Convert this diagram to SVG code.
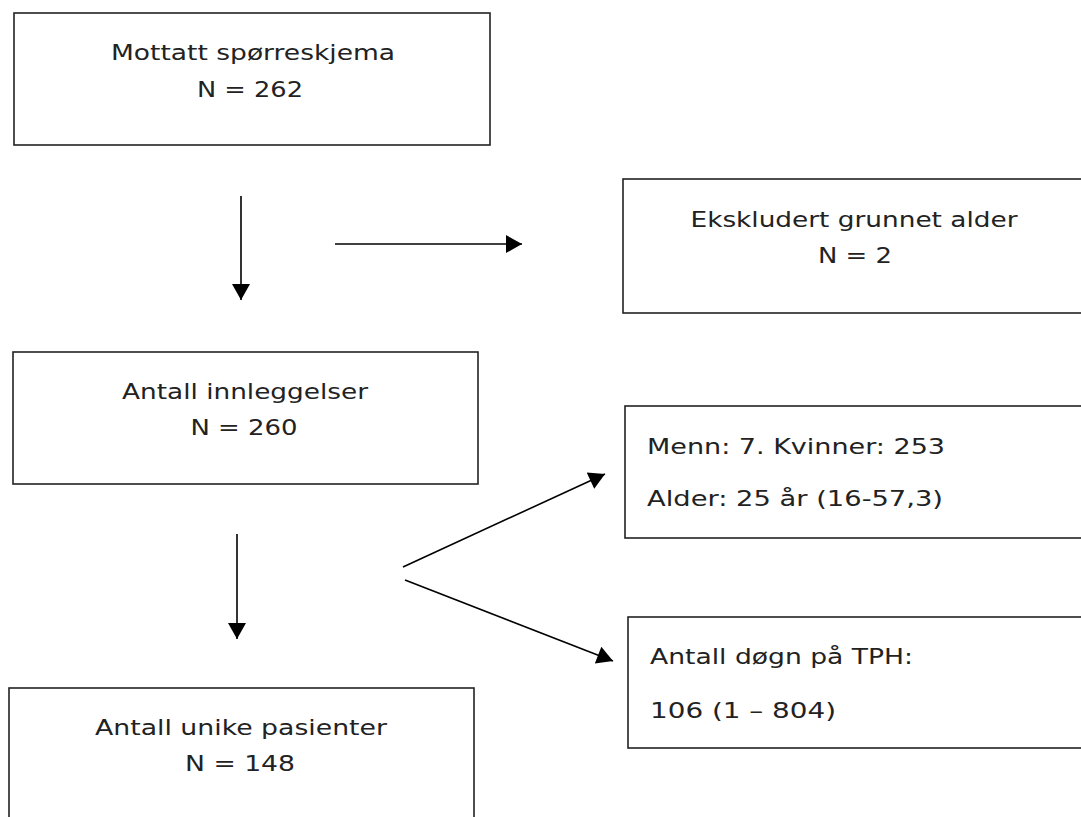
<svg xmlns="http://www.w3.org/2000/svg" width="1081" height="817" viewBox="0 0 1081 817">
<defs>
<style>
.box{fill:#fff;stroke:#222;stroke-width:1.6}
.t{font-family:"DejaVu Sans","Liberation Sans",sans-serif;font-size:22px;fill:#222}
.c{text-anchor:middle}
.ln{stroke:#000;stroke-width:1.6;fill:none;marker-end:url(#ah)}
</style>
<marker id="ah" markerUnits="userSpaceOnUse" markerWidth="18" markerHeight="18" viewBox="0 0 16 18" refX="16" refY="9" orient="auto">
<path d="M0,0 L16,9 L0,18 Z" fill="#000"/>
</marker>
</defs>
<rect width="1081" height="817" fill="#fff"/>
<g id="connectors">
<line class="ln" x1="241" y1="196" x2="241" y2="300"/>
<line class="ln" x1="335" y1="244" x2="522" y2="244"/>
<line class="ln" x1="237" y1="534" x2="237" y2="639"/>
<line class="ln" x1="403" y1="567" x2="605" y2="474"/>
<line class="ln" x1="405" y1="580" x2="613" y2="661"/>
</g>
<g id="n1">
<rect class="box" x="14" y="13" width="476" height="132"/>
<text class="t c" x="253" y="60" textLength="284" lengthAdjust="spacingAndGlyphs">Mottatt spørreskjema</text>
<text class="t c" x="250" y="97" textLength="106" lengthAdjust="spacingAndGlyphs">N = 262</text>
</g>
<g id="n2">
<rect class="box" x="623" y="179" width="470" height="134"/>
<text class="t c" x="854" y="227" textLength="327" lengthAdjust="spacingAndGlyphs">Ekskludert grunnet alder</text>
<text class="t c" x="855" y="263" textLength="74" lengthAdjust="spacingAndGlyphs">N = 2</text>
</g>
<g id="n3">
<rect class="box" x="13" y="352" width="465" height="132"/>
<text class="t c" x="245" y="399" textLength="246" lengthAdjust="spacingAndGlyphs">Antall innleggelser</text>
<text class="t c" x="244" y="435" textLength="107" lengthAdjust="spacingAndGlyphs">N = 260</text>
</g>
<g id="n4">
<rect class="box" x="625" y="406" width="470" height="132"/>
<text class="t" x="647" y="454" textLength="298" lengthAdjust="spacingAndGlyphs">Menn: 7. Kvinner: 253</text>
<text class="t" x="647" y="506" textLength="296" lengthAdjust="spacingAndGlyphs">Alder: 25 år (16-57,3)</text>
</g>
<g id="n5">
<rect class="box" x="628" y="617" width="470" height="131"/>
<text class="t" x="650" y="664" textLength="263" lengthAdjust="spacingAndGlyphs">Antall døgn på TPH:</text>
<text class="t" x="650" y="718" textLength="186" lengthAdjust="spacingAndGlyphs">106 (1 – 804)</text>
</g>
<g id="n6">
<rect class="box" x="9" y="688" width="465" height="140"/>
<text class="t c" x="241" y="735" textLength="292" lengthAdjust="spacingAndGlyphs">Antall unike pasienter</text>
<text class="t c" x="240" y="771" textLength="110" lengthAdjust="spacingAndGlyphs">N = 148</text>
</g>
</svg>
